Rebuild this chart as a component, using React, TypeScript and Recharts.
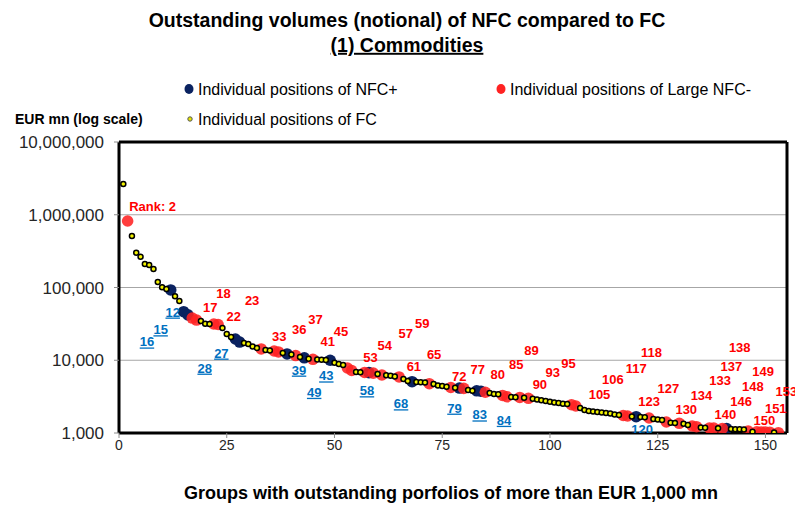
import React from "react";
import {
  CartesianGrid,
  ReferenceLine,
  Scatter,
  ScatterChart,
  XAxis,
  YAxis,
} from "recharts";

// outstanding notional per group, EUR mn, sorted by rank (rank 1 first)
const volumes = [
  2650000, 820000, 510000, 300000, 265000, 210000, 204000, 180000, 119000, 101000,
  95000, 92500, 76000, 65000, 46500, 42000, 38000, 35700, 34600, 31800,
  31600, 31500, 31000, 27700, 23000, 20900, 19600, 17800, 17300, 16700,
  15500, 14700, 14300, 13800, 13600, 13400, 13000, 12600, 12200, 12000,
  11600, 11100, 10800, 10500, 10300, 10200, 10150, 10100, 10000, 9250,
  8880, 8610, 7820, 7230, 6890, 6850, 6800, 6750, 6650, 6470,
  6270, 6200, 6100, 6000, 5890, 5520, 5190, 5070, 5020, 5000,
  4940, 4760, 4720, 4500, 4430, 4330, 4220, 4200, 4150, 4100,
  3900, 3810, 3800, 3750, 3630, 3550, 3440, 3400, 3280, 3150,
  3120, 3100, 3080, 3050, 3000, 2950, 2890, 2810, 2750, 2690,
  2630, 2580, 2530, 2500, 2450, 2350, 2210, 2070, 2005, 1975,
  1945, 1914, 1884, 1853, 1796, 1767, 1740, 1713, 1686, 1675,
  1660, 1650, 1607, 1556, 1533, 1509, 1416, 1381, 1372, 1360,
  1340, 1288, 1248, 1221, 1190, 1178, 1171, 1165, 1160, 1155,
  1150, 1135, 1130, 1125, 1117, 1065, 1042, 1040, 1032, 1030,
  1025, 1015, 1010,
];

const nfcPlusRanks = [12, 15, 16, 27, 28, 39, 43, 49, 58, 68, 79, 83, 84, 120, 141];

const largeNfcMinusRanks = [
  2, 17, 18, 22, 23, 33, 36, 37, 41, 45, 53, 54, 57, 59, 61, 65, 72, 77, 80, 85,
  89, 90, 93, 95, 105, 106, 117, 118, 123, 127, 130, 133, 134, 137, 138, 140,
  146, 148, 149, 150, 151, 153,
];

const xTicks = [0, 25, 50, 75, 100, 125, 150];
const yTicks = [1000, 10000, 100000, 1000000, 10000000];

const TITLE = "Outstanding volumes (notional) of NFC compared to FC";
const SUBTITLE = "(1) Commodities";
const Y_TITLE = "EUR mn (log scale)";
const X_TITLE = "Groups with outstanding porfolios of more than EUR 1,000 mn";
const LEGEND_PLUS = "Individual positions of NFC+";
const LEGEND_MINUS = "Individual positions of Large NFC-";
const LEGEND_FC = "Individual positions of FC";

// label placement (px, relative to the dot) - hand placed like the excel labels
const labelOffsets: Record<number, [number, number]> = {
  2: [25, -15], 17: [18, -11], 18: [27, -27], 22: [20, -8], 23: [34, -24],
  33: [18, -12], 36: [25, -22], 37: [37, -33], 41: [32, -14], 45: [28, -28],
  53: [23, -11], 54: [33, -25], 57: [41, -39], 59: [49, -50], 61: [32, -9],
  65: [35, -23], 72: [30, -7], 77: [27, -18], 80: [34, -14], 85: [31, -28],
  89: [29, -45], 90: [33, -12], 93: [33, -25], 95: [40, -35], 105: [28, -10],
  106: [37, -27], 117: [13, -47], 118: [24, -64], 123: [0, -17], 127: [2, -34],
  130: [7, -14], 133: [28, -46], 134: [5, -31], 137: [22, -62], 138: [26, -81],
  140: [3, -14], 146: [-7, -30], 148: [-4, -45], 149: [2, -61], 150: [-1, -12],
  151: [6, -24], 153: [8, -41],
  12: [2, 22], 15: [-23, 18], 16: [-41, 27], 27: [-14, 14], 28: [-35, 26],
  39: [12, 16], 43: [22, 18], 49: [-16, 32], 58: [-2, 18], 68: [-11, 22],
  79: [-5, 20], 83: [3, 24], 84: [23, 29], 120: [6, 13], 141: [5, 23],
};

const NAVY = "#0a2260";
const RED = "#ff2222";
const BLUE = "#0070c0";
const FONT = "'Liberation Sans', Arial, sans-serif";

type Pt = { rank: number; value: number };

const points: Pt[] = volumes.map((value, i) => ({ rank: i + 1, value }));
const nfcPlusPoints = points.filter((p) => nfcPlusRanks.includes(p.rank));
const nfcMinusPoints = points.filter((p) => largeNfcMinusRanks.includes(p.rank));
const fcPoints = points.filter(
  (p) => !nfcPlusRanks.includes(p.rank) && !largeNfcMinusRanks.includes(p.rank)
);
const labelPoints = [...nfcPlusPoints, ...nfcMinusPoints];

const FcDot = (p: any) => (
  <circle cx={p.cx} cy={p.cy} r={2.5} fill="#f2f200" stroke="#000" strokeWidth={1.5} />
);
const PlusDot = (p: any) => <circle cx={p.cx} cy={p.cy} r={5.8} fill={NAVY} />;
const MinusDot = (p: any) => (
  <circle cx={p.cx} cy={p.cy} r={5.8} fill={RED} fillOpacity={0.88} />
);

const RankLabel = (p: any) => {
  const rank: number = p.payload.rank;
  const plus = nfcPlusRanks.includes(rank);
  const [dx, dy] = labelOffsets[rank] ?? [0, -14];
  return (
    <text
      x={p.cx + dx}
      y={p.cy + dy}
      dy="0.35em"
      textAnchor="middle"
      fontFamily={FONT}
      fontSize={13}
      fontWeight="bold"
      fill={plus ? BLUE : "#ff0000"}
      textDecoration={plus ? "underline" : undefined}
    >
      {rank === 2 ? "Rank: 2" : rank}
    </text>
  );
};

const fmt = (v: number) => v.toLocaleString("en-US");

export default function App() {
  return (
    <div style={{ position: "absolute", left: 0, top: 0, width: 795, height: 507, background: "#fff" }}>
      <ScatterChart
        width={795}
        height={507}
        margin={{ top: 142, right: 8, bottom: 44, left: 0 }}
      >
        <CartesianGrid vertical={false} stroke="#a6a6a6" strokeWidth={1} />
        <XAxis
          type="number"
          dataKey="rank"
          domain={[0, 155]}
          ticks={xTicks}
          height={30}
          axisLine={{ stroke: "#000", strokeWidth: 3 }}
          tickLine={{ stroke: "#8c8c8c" }}
          tickSize={5}
          tick={{ fontSize: 14, fill: "#262626", fontFamily: FONT }}
        />
        <YAxis
          type="number"
          dataKey="value"
          scale="log"
          domain={[1000, 10000000]}
          ticks={yTicks}
          width={119}
          allowDataOverflow
          tickFormatter={fmt}
          axisLine={{ stroke: "#000", strokeWidth: 3 }}
          tickLine={{ stroke: "#8c8c8c" }}
          tickSize={5}
          tickMargin={10}
          tick={{ fontSize: 17, fill: "#262626", fontFamily: FONT }}
        />
        <ReferenceLine y={10000000} stroke="#000" strokeWidth={3} />
        <ReferenceLine x={155} stroke="#000" strokeWidth={3} />
        <Scatter data={nfcPlusPoints} shape={PlusDot} isAnimationActive={false} />
        <Scatter data={nfcMinusPoints} shape={MinusDot} isAnimationActive={false} />
        <Scatter data={fcPoints} shape={FcDot} isAnimationActive={false} />
        <Scatter data={labelPoints} shape={RankLabel} isAnimationActive={false} />
      </ScatterChart>

      <svg
        width={795}
        height={507}
        style={{ position: "absolute", left: 0, top: 0, pointerEvents: "none" }}
        fontFamily={FONT}
      >
        <text x={407} y={20} dy="0.35em" textAnchor="middle" fontSize={19.5} fontWeight="bold">
          {TITLE}
        </text>
        <text
          x={407}
          y={45}
          dy="0.35em"
          textAnchor="middle"
          fontSize={19.5}
          fontWeight="bold"
          textDecoration="underline"
        >
          {SUBTITLE}
        </text>

        <ellipse cx={189} cy={89} rx={4.5} ry={5} fill={NAVY} />
        <text x={198} y={89} dy="0.35em" fontSize={16}>
          {LEGEND_PLUS}
        </text>
        <ellipse cx={501} cy={89} rx={4.5} ry={5} fill={RED} />
        <text x={510} y={89} dy="0.35em" fontSize={16}>
          {LEGEND_MINUS}
        </text>
        <circle cx={190} cy={119} r={2.2} fill="#e8e800" stroke="#555" strokeWidth={1} />
        <text x={198} y={119} dy="0.35em" fontSize={16}>
          {LEGEND_FC}
        </text>
        <text x={15} y={119} dy="0.35em" fontSize={14} fontWeight="bold">
          {Y_TITLE}
        </text>

        <text x={451} y={493} dy="0.35em" textAnchor="middle" fontSize={18} fontWeight="bold">
          {X_TITLE}
        </text>
      </svg>
    </div>
  );
}
